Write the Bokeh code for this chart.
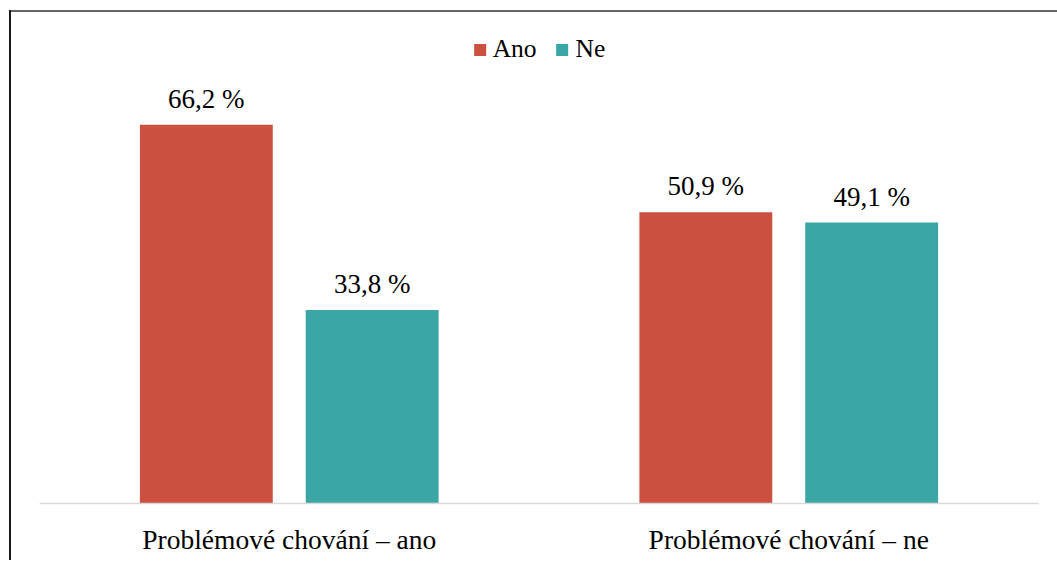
from bokeh.plotting import figure
from bokeh.models import ColumnDataSource, FactorRange, Range1d, Legend, LegendItem
from bokeh.transform import dodge
from bokeh.core.properties import value
from bokeh.embed import file_html
from bokeh.resources import INLINE

categories = ["Problémové chování – ano", "Problémové chování – ne"]
series = ["Ano", "Ne"]
ano = [66.2, 50.9]
ne = [33.8, 49.1]
colors = ["#CB5040", "#3AA6A6"]

def fmt(v):
    return ("%.1f %%" % v).replace(".", ",")

src = ColumnDataSource(dict(cat=categories, ano=ano, ne=ne,
                            ano_lbl=[fmt(v) for v in ano], ne_lbl=[fmt(v) for v in ne]))

FONT = "Liberation Serif"

p = figure(
    x_range=FactorRange(factors=categories, range_padding=0),
    y_range=Range1d(0, 84.4),
    width=1057, height=560,
    output_backend="svg", toolbar_location=None,
    min_border_left=39, min_border_right=19, min_border_top=20, min_border_bottom=57,
)
p.border_fill_alpha = 0
p.styles = {"background": "linear-gradient(#1a1a1a,#1a1a1a) 9px 10px / 2px 560px no-repeat, "
                          "linear-gradient(#666666,#666666) 9px 10px / 1060px 2px no-repeat, #ffffff"}

r1 = p.vbar(x=dodge("cat", -0.166, range=p.x_range), top="ano", width=0.266,
            source=src, fill_color=colors[0], line_color=None)
r2 = p.vbar(x=dodge("cat", 0.166, range=p.x_range), top="ne", width=0.266,
            source=src, fill_color=colors[1], line_color=None)

for off, col, lbl in [(-0.166, "ano", "ano_lbl"), (0.166, "ne", "ne_lbl")]:
    p.text(x=dodge("cat", off, range=p.x_range), y=col, text=lbl, source=src,
           text_align="center", text_baseline="alphabetic", y_offset=-26,
           text_font=value(FONT), text_font_size="27px", text_color="#000000")

legend = Legend(items=[LegendItem(label=series[0], renderers=[r1]),
                       LegendItem(label=series[1], renderers=[r2])],
                orientation="horizontal", location="top_center",
                label_text_font=FONT, label_text_font_size="25.5px",
                label_text_color="#000000",
                glyph_width=15, glyph_height=15, label_standoff=6, spacing=18,
                border_line_color=None, background_fill_alpha=0,
                margin=14, padding=4)
p.add_layout(legend)

p.yaxis.visible = False
p.xgrid.visible = False
p.ygrid.visible = False
p.outline_line_color = None
p.xaxis.axis_line_color = "#D9D9D9"
p.xaxis.axis_line_width = 1.5
p.xaxis.major_tick_line_color = None
p.xaxis.minor_tick_line_color = None
p.xaxis.major_label_standoff = 14
p.xaxis.major_label_text_font = FONT
p.xaxis.major_label_text_font_size = "27.5px"
p.xaxis.major_label_text_color = "#000000"

open("out.html", "w").write(file_html(p, INLINE))
